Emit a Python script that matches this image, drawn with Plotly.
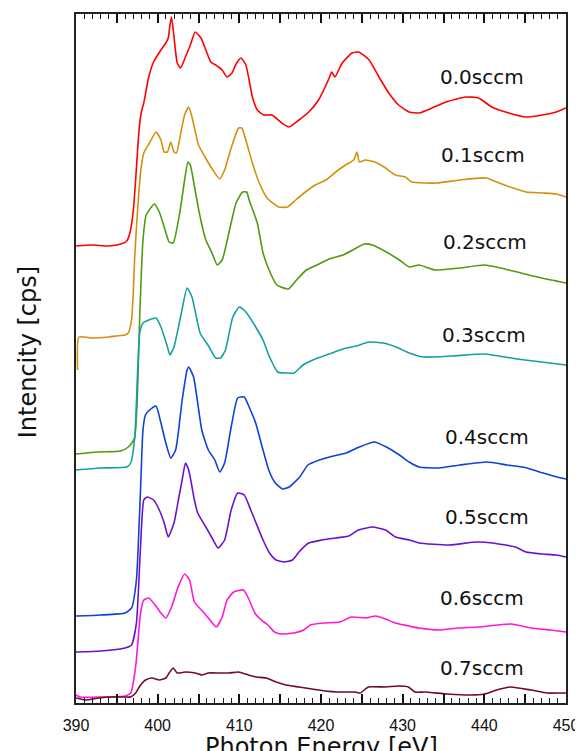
import plotly.graph_objects as go

# ---------------- data (intensity in arbitrary units) ----------------
labels = ["0.0sccm", "0.1sccm", "0.2sccm", "0.3sccm", "0.4sccm", "0.5sccm", "0.6sccm", "0.7sccm"]

e_00 = [390.0, 392.0, 394.0, 395.5, 396.2, 396.6, 397.0, 397.3, 397.7, 398.0, 398.3, 398.9, 399.5, 400.4,
        401.0, 401.3, 401.5, 401.7, 402.0, 402.4, 402.8, 403.4, 404.0, 404.6, 405.3, 405.9, 406.5, 407.1,
        407.9, 408.5, 409.1, 409.6, 410.2, 410.8, 411.6, 412.2, 413.0, 414.0, 415.2, 416.1, 417.3, 418.5,
        419.7, 421.0, 421.3, 421.7, 422.6, 423.8, 424.6, 425.9, 427.1, 428.3, 429.5, 430.8, 432.0, 433.6,
        435.3, 437.7, 439.3, 440.9, 443.0, 445.1, 447.1, 448.8, 450.0]
i_00 = [457, 458, 457, 459, 462, 470, 491, 523, 571, 591, 600, 626, 641, 653,
        660, 665, 678, 686, 666, 640, 635, 646, 658, 671, 665, 653, 641, 638,
        633, 626, 630, 639, 645, 638, 606, 593, 588, 588, 580, 576, 583, 591,
        603, 625, 631, 626, 640, 650, 651, 643, 626, 610, 598, 591, 590, 595,
        601, 606, 605, 596, 590, 586, 588, 591, 595]

e_01 = [390.2, 390.35, 392.0, 394.0, 395.0, 396.0, 396.4, 396.8, 397.0, 397.2, 397.5, 397.9, 398.3, 399.0,
        399.8, 400.4, 400.8, 401.2, 401.6, 402.0, 402.3, 402.9, 403.3, 403.8, 404.2, 405.0, 405.8, 406.6,
        407.6, 408.2, 409.0, 409.9, 410.3, 410.9, 411.6, 412.4, 413.4, 414.8, 415.9, 416.9, 418.1, 419.3,
        420.6, 421.8, 423.0, 424.0, 424.4, 424.7, 425.4, 426.6, 427.9, 429.1, 430.3, 431.1, 434.2, 437.0,
        440.2, 441.8, 443.5, 445.1, 447.1, 448.8, 450.0]
i_01 = [333, 366, 365, 366, 367, 368, 370, 383, 408, 448, 488, 530, 550, 560,
        571, 563, 551, 551, 561, 551, 550, 573, 588, 596, 586, 558, 546, 535,
        524, 533, 555, 575, 575, 560, 540, 521, 505, 496, 496, 503, 511, 518,
        523, 531, 538, 543, 551, 541, 543, 541, 535, 528, 526, 521, 520, 523,
        525, 520, 515, 511, 510, 509, 506]

e_02 = [390.0, 392.7, 395.5, 396.4, 397.0, 397.2, 397.5, 397.8, 398.2, 398.6, 399.6, 400.2, 400.8, 401.4,
        401.9, 402.7, 403.3, 403.7, 404.0, 404.3, 405.1, 405.9, 406.6, 407.3, 407.9, 408.8, 409.6, 410.4,
        410.9, 411.2, 412.2, 412.9, 413.8, 414.6, 416.0, 417.0, 418.2, 419.5, 421.0, 422.7, 423.9, 425.3,
        426.3, 428.0, 429.6, 430.8, 432.0, 434.0, 437.0, 440.0, 442.0, 444.5, 447.0, 450.0]
i_02 = [249, 251, 252, 256, 262, 266, 303, 386, 463, 488, 499, 491, 476, 461,
        460, 490, 523, 541, 538, 526, 490, 463, 451, 438, 443, 473, 500, 511,
        511, 503, 480, 450, 430, 418, 414, 423, 433, 438, 444, 448, 453, 459,
        458, 451, 443, 436, 438, 433, 435, 438, 435, 430, 425, 420]

e_03 = [390.0, 393.0, 396.2, 396.7, 397.2, 397.8, 398.2, 399.8, 400.4, 401.2, 401.5, 402.0, 402.9, 403.6,
        404.2, 405.2, 406.3, 407.1, 407.7, 408.3, 409.2, 410.0, 410.8, 412.0, 412.9, 413.7, 414.7, 415.7,
        416.7, 417.8, 419.0, 421.0, 422.7, 424.3, 425.9, 427.6, 429.2, 430.8, 432.5, 436.0, 440.0, 444.0,
        447.0, 450.0]
i_03 = [233, 235, 236, 240, 266, 370, 380, 385, 376, 356, 348, 356, 390, 415,
        406, 370, 356, 345, 345, 353, 386, 396, 391, 376, 363, 346, 331, 330,
        330, 338, 343, 349, 354, 357, 361, 360, 356, 350, 346, 347, 349, 344,
        341, 338]

e_04 = [390.0, 393.0, 396.0, 396.8, 397.4, 397.7, 397.9, 398.2, 398.5, 399.0, 399.8, 400.4, 401.0, 401.6,
        402.2, 403.0, 403.6, 403.8, 404.4, 405.4, 406.2, 407.0, 407.6, 408.2, 409.0, 409.8, 410.6, 411.2,
        412.0, 412.8, 413.6, 414.4, 415.3, 416.1, 417.4, 418.4, 419.8, 421.5, 423.1, 424.7, 426.5, 428.0,
        429.6, 430.8, 432.0, 434.4, 437.0, 440.3, 442.8, 445.2, 447.2, 448.9, 450.0]
i_04 = [87, 88, 90, 95, 123, 173, 213, 273, 288, 293, 297, 280, 260, 245,
        253, 303, 333, 336, 326, 273, 253, 243, 231, 240, 276, 305, 306, 296,
        280, 256, 233, 220, 214, 216, 226, 238, 243, 247, 250, 256, 261, 256,
        248, 241, 236, 235, 238, 241, 238, 235, 230, 226, 224]

e_05 = [390.0, 393.0, 396.0, 396.8, 397.4, 397.9, 398.3, 398.7, 399.5, 400.2, 400.8, 401.3, 402.0, 402.6,
        403.0, 403.4, 403.8, 404.5, 404.9, 405.9, 406.8, 407.4, 408.2, 409.0, 409.8, 410.6, 411.4, 412.0,
        412.9, 413.7, 414.5, 415.5, 416.5, 417.3, 418.5, 420.1, 421.8, 423.4, 424.6, 426.3, 427.9, 429.1,
        430.8, 432.0, 435.7, 439.0, 441.0, 443.8, 445.1, 447.1, 448.8, 450.0]
i_05 = [51, 52, 55, 58, 80, 156, 203, 206, 203, 193, 180, 166, 180, 206,
        223, 240, 233, 203, 190, 176, 163, 155, 163, 193, 210, 208, 193, 181,
        163, 150, 143, 141, 143, 151, 160, 163, 165, 167, 173, 176, 173, 166,
        163, 160, 158, 161, 160, 156, 151, 149, 148, 146]

e_06 = [390.0, 390.5, 393.0, 396.0, 396.7, 397.3, 397.9, 398.3, 398.9, 399.7, 400.3, 401.0, 401.7, 402.5,
        403.3, 403.9, 404.5, 405.7, 406.7, 407.2, 407.9, 408.5, 409.3, 410.5, 411.1, 411.9, 412.7, 413.5,
        414.3, 415.1, 416.7, 417.9, 418.7, 420.3, 422.3, 423.7, 425.5, 426.7, 427.9, 429.1, 430.8, 432.0,
        434.4, 436.8, 439.3, 443.3, 445.7, 448.1, 450.0]
i_06 = [8, 6, 6, 7, 10, 36, 90, 103, 105, 98, 91, 85, 96, 116,
        129, 123, 101, 90, 80, 76, 86, 103, 111, 113, 105, 90, 83, 78,
        71, 69, 70, 73, 78, 80, 81, 86, 85, 87, 84, 80, 77, 75,
        73, 75, 76, 79, 75, 73, 71]

e_07 = [390.0, 391.2, 392.8, 394.4, 396.0, 396.7, 397.3, 397.9, 398.5, 399.3, 400.2, 401.0, 401.4, 401.9,
        402.4, 403.4, 404.6, 405.4, 406.2, 407.5, 408.7, 409.9, 411.1, 412.1, 413.3, 414.5, 415.7, 417.3,
        418.9, 420.5, 422.1, 424.2, 424.8, 425.8, 427.9, 429.5, 430.7, 431.5, 432.7, 435.5, 438.3, 440.0,
        441.5, 443.2, 445.7, 447.7, 449.3, 450.0]
i_07 = [5, 3, 5, 6, 6, 6, 10, 18, 23, 25, 23, 25, 30, 35,
        30, 31, 30, 28, 30, 30, 30, 31, 28, 26, 25, 21, 18, 16,
        14, 12, 11, 11, 10, 16, 16, 17, 16, 11, 11, 9, 8, 9,
        13, 16, 13, 10, 10, 10]

energies = [e_00, e_01, e_02, e_03, e_04, e_05, e_06, e_07]
intensities = [i_00, i_01, i_02, i_03, i_04, i_05, i_06, i_07]

x_tick_vals = [390, 395, 400, 405, 410, 415, 420, 425, 430, 435, 440, 445, 450]
x_tick_text = ["390", "", "400", "", "410", "", "420", "", "430", "", "440", "", "450"]

# ---------------- styles ----------------
colors = ["#FF0000", "#D4900C", "#4F9A0E", "#14A0A0", "#1040D8", "#6A12D0", "#FF18D8", "#700A30"]
label_x = [439.7, 439.8, 440.1, 440.0, 440.3, 440.3, 439.7, 439.7]
label_y = [626, 548, 461, 368, 266, 186, 105, 35]

fig = go.Figure()
for k in range(len(labels)):
    fig.add_trace(go.Scatter(
        x=energies[k], y=intensities[k], mode="lines", name=labels[k],
        line=dict(color=colors[k], width=1.6, shape="spline", smoothing=0.5),
        showlegend=False, hoverinfo="skip"))

annotations = []
for k in range(len(labels)):
    annotations.append(dict(x=label_x[k], y=label_y[k], xref="x", yref="y", text=labels[k],
                            showarrow=False, xanchor="center", yanchor="middle",
                            font=dict(family="DejaVu Sans", size=20, color="#111111")))
annotations.append(dict(x=0.5, y=-0.040, xref="paper", yref="paper", text="Photon Energy [eV]",
                        showarrow=False, xanchor="center", yanchor="top",
                        font=dict(family="DejaVu Sans", size=24, color="#111111")))
annotations.append(dict(x=-0.098, y=0.509, xref="paper", yref="paper", text="Intencity [cps]",
                        showarrow=False, xanchor="center", yanchor="middle", textangle=-90,
                        font=dict(family="DejaVu Sans", size=24, color="#111111")))

# page body adds an 8px offset, so the figure is 8px smaller on each axis
fig.update_layout(
    width=575, height=743,
    margin=dict(l=68, r=17, t=6, b=48, autoexpand=False),
    paper_bgcolor="white", plot_bgcolor="white",
    annotations=annotations,
    xaxis=dict(range=[390, 450], tickmode="array", tickvals=x_tick_vals,
               ticktext=x_tick_text, automargin=False,
               ticks="inside", ticklen=9, tickwidth=1.5, tickcolor="#111111",
               showline=True, linewidth=2, linecolor="#222222", mirror="allticks",
               showgrid=False, zeroline=False, ticklabelstandoff=7,
               tickfont=dict(family="Liberation Sans Narrow, Arial Narrow, Liberation Sans", size=16, color="#111111"),
               minor=dict(tickmode="linear", dtick=1, tick0=390, ticks="inside", ticklen=5, tickwidth=1.2,
                          tickcolor="#111111", showgrid=False)),
    yaxis=dict(range=[0, 689], showticklabels=False, ticks="", showgrid=False, zeroline=False,
               automargin=False, showline=True, linewidth=2, linecolor="#222222", mirror=True),
)

fig.write_html("out.html")
